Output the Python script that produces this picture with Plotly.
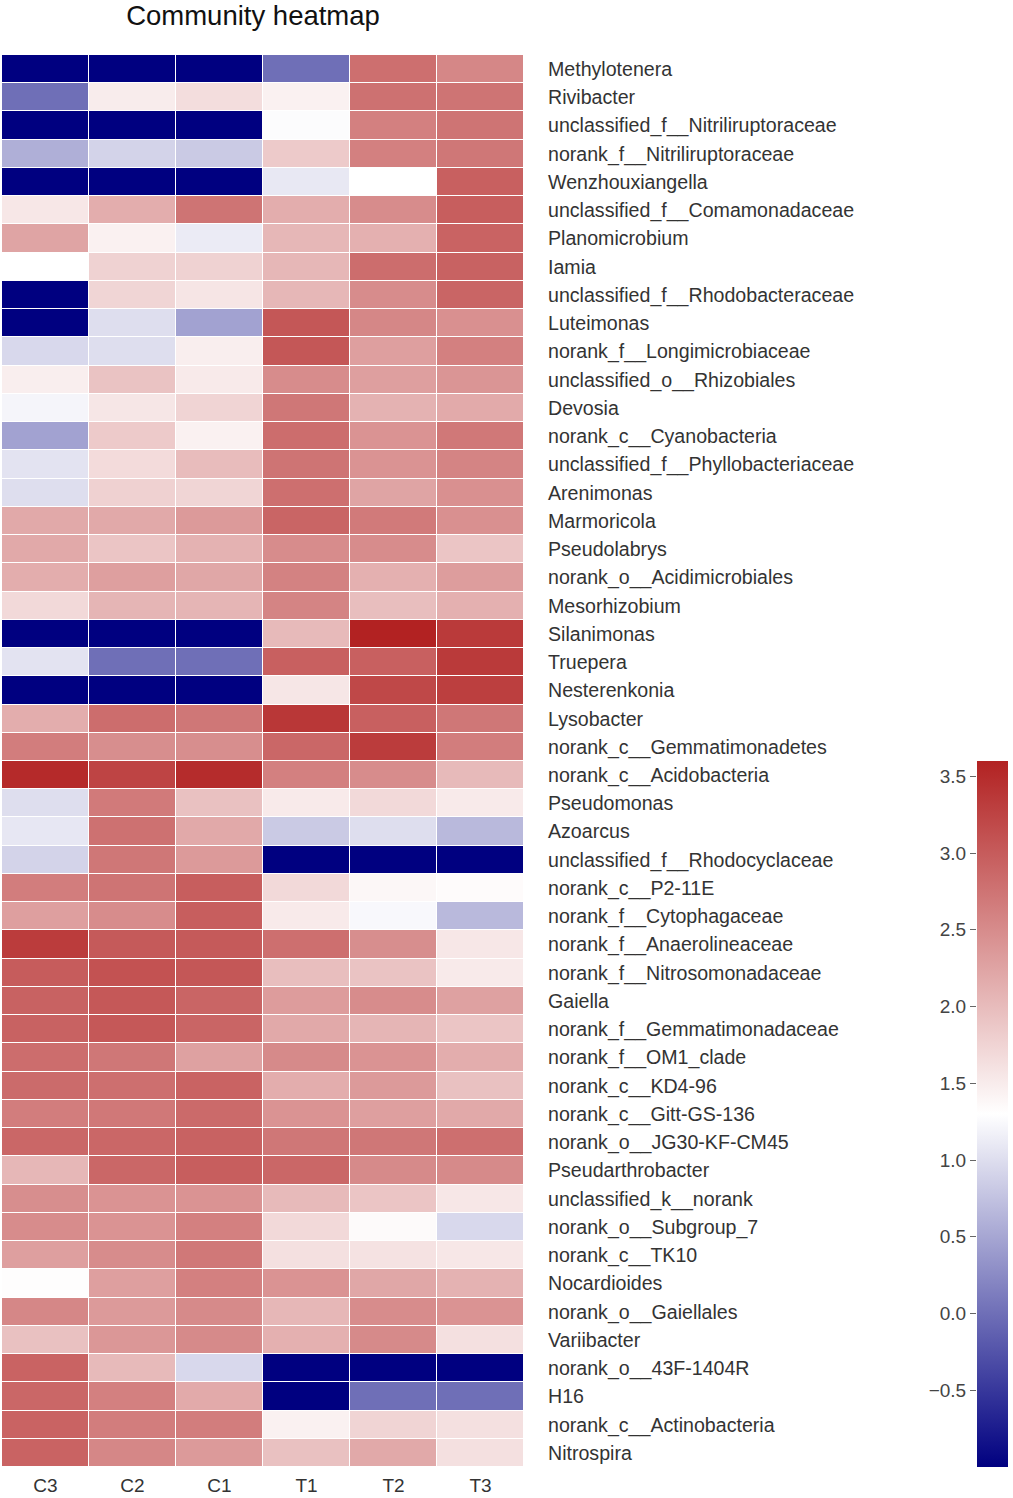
import plotly.graph_objects as go

N = -1.0  # cells at the bottom of the colour range

samples = ["C3", "C2", "C1", "T1", "T2", "T3"]

taxa = [
    "Methylotenera", "Rivibacter", "unclassified_f__Nitriliruptoraceae",
    "norank_f__Nitriliruptoraceae", "Wenzhouxiangella", "unclassified_f__Comamonadaceae",
    "Planomicrobium", "Iamia", "unclassified_f__Rhodobacteraceae", "Luteimonas",
    "norank_f__Longimicrobiaceae", "unclassified_o__Rhizobiales", "Devosia",
    "norank_c__Cyanobacteria", "unclassified_f__Phyllobacteriaceae", "Arenimonas",
    "Marmoricola", "Pseudolabrys", "norank_o__Acidimicrobiales", "Mesorhizobium",
    "Silanimonas", "Truepera", "Nesterenkonia", "Lysobacter",
    "norank_c__Gemmatimonadetes", "norank_c__Acidobacteria", "Pseudomonas", "Azoarcus",
    "unclassified_f__Rhodocyclaceae", "norank_c__P2-11E", "norank_f__Cytophagaceae",
    "norank_f__Anaerolineaceae", "norank_f__Nitrosomonadaceae", "Gaiella",
    "norank_f__Gemmatimonadaceae", "norank_f__OM1_clade", "norank_c__KD4-96",
    "norank_c__Gitt-GS-136", "norank_o__JG30-KF-CM45", "Pseudarthrobacter",
    "unclassified_k__norank", "norank_o__Subgroup_7", "norank_c__TK10", "Nocardioides",
    "norank_o__Gaiellales", "Variibacter", "norank_o__43F-1404R", "H16",
    "norank_c__Actinobacteria", "Nitrospira",
]

c3 = [N, 0.0, N, 0.58, N, 1.55, 2.25, 1.3, N, N,
      0.95, 1.48, 1.21, 0.46, 1.05, 1.0, 2.2, 2.2, 2.15, 1.7,
      N, 1.05, N, 2.15, 2.65, 3.52, 1.0, 1.08, 0.9, 2.65,
      2.3, 3.33, 3.0, 2.93, 2.93, 2.82, 2.84, 2.65, 2.88, 2.05,
      2.48, 2.5, 2.3, 1.32, 2.55, 1.95, 2.92, 2.88, 2.92, 2.92]
c2 = [N, 1.5, N, 0.9, N, 2.15, 1.45, 1.77, 1.74, 1.0,
      1.0, 1.92, 1.56, 1.85, 1.67, 1.78, 2.2, 1.9, 2.3, 2.07,
      N, 0.0, N, 2.82, 2.48, 3.25, 2.68, 2.78, 2.72, 2.75,
      2.5, 3.02, 3.1, 3.04, 3.04, 2.72, 2.8, 2.7, 2.88, 2.88,
      2.42, 2.42, 2.5, 2.3, 2.35, 2.38, 2.02, 2.62, 2.65, 2.55]
c1 = [N, 1.65, N, 0.82, N, 2.75, 1.12, 1.77, 1.57, 0.46,
      1.48, 1.52, 1.75, 1.45, 2.0, 1.74, 2.35, 2.1, 2.22, 2.07,
      N, 0.0, N, 2.72, 2.48, 3.5, 1.95, 2.2, 2.35, 2.98,
      2.98, 3.02, 3.05, 2.9, 2.9, 2.28, 2.92, 2.85, 2.93, 2.98,
      2.42, 2.62, 2.7, 2.62, 2.52, 2.52, 0.95, 2.18, 2.65, 2.35]
t1 = [0.0, 1.45, 1.27, 1.85, 1.09, 2.15, 2.05, 2.05, 2.05, 3.05,
      3.05, 2.5, 2.72, 2.82, 2.75, 2.8, 2.9, 2.5, 2.6, 2.58,
      2.02, 2.95, 1.56, 3.38, 2.88, 2.62, 1.52, 0.82, N, 1.7,
      1.52, 2.8, 1.98, 2.33, 2.2, 2.52, 2.15, 2.42, 2.72, 2.88,
      2.02, 1.7, 1.62, 2.42, 2.05, 2.12, N, N, 1.45, 1.95]
t2 = [2.8, 2.78, 2.62, 2.62, 1.3, 2.5, 2.12, 2.82, 2.5, 2.55,
      2.3, 2.3, 2.1, 2.42, 2.42, 2.25, 2.68, 2.5, 2.12, 1.98,
      3.6, 2.95, 3.2, 2.95, 3.33, 2.5, 1.7, 1.0, N, 1.38,
      1.24, 2.48, 1.92, 2.5, 2.07, 2.42, 2.35, 2.3, 2.72, 2.52,
      1.9, 1.35, 1.6, 2.22, 2.5, 2.52, N, 0.0, 1.75, 2.2]
t3 = [2.55, 2.75, 2.75, 2.72, 2.95, 2.98, 2.92, 2.93, 2.9, 2.45,
      2.62, 2.4, 2.18, 2.7, 2.58, 2.45, 2.45, 1.9, 2.32, 2.12,
      3.35, 3.35, 3.3, 2.72, 2.65, 2.02, 1.52, 0.67, N, 1.34,
      0.67, 1.55, 1.52, 2.28, 1.9, 2.15, 1.95, 2.2, 2.8, 2.52,
      1.55, 0.95, 1.55, 2.1, 2.42, 1.62, N, 0.0, 1.62, 1.62]

cbar_ticks = [-0.5, 0.0, 0.5, 1.0, 1.5, 2.0, 2.5, 3.0, 3.5]

ZMIN, ZMAX = -1.0, 3.6
FONT = "Liberation Sans, Arial, sans-serif"

columns = [c3, c2, c1, t1, t2, t3]
z = [list(row) for row in zip(*columns)]

W, H = 1013, 1498
ML, MR, MT, MB = 2, 5, 55, 28
plot_w = W - ML - MR
heat_right = 522 / plot_w
cb_left = (977 - ML) / plot_w

fig = go.Figure()

fig.add_trace(go.Heatmap(
    z=z, x=samples, y=taxa,
    zmin=ZMIN, zmax=ZMAX,
    colorscale=[[0, "#000080"], [0.5, "#ffffff"], [1, "#b22222"]],
    xgap=1, ygap=1,
    colorbar=dict(
        x=cb_left, xanchor="left", xpad=0,
        y=0, yanchor="bottom", ypad=0,
        len=0.5, lenmode="fraction", thickness=31,
        outlinewidth=0, showticklabels=False, ticks="",
    ),
))

# empty trace so the colour-bar scale axis gets drawn on the left of the bar
fig.add_trace(go.Scatter(x=[], y=[], xaxis="x2", yaxis="y2",
                         showlegend=False, hoverinfo="skip"))

fig.update_layout(
    width=W, height=H,
    margin=dict(l=ML, r=MR, t=MT, b=MB),
    paper_bgcolor="#ffffff", plot_bgcolor="#ffffff",
    font=dict(family=FONT, color="#333333"),
    title=dict(text="Community heatmap", xref="paper", x=(253 - ML) / plot_w,
               xanchor="center", y=1 - 15 / H, yanchor="middle",
               font=dict(size=27.5, color="#111111", family=FONT)),
    xaxis=dict(domain=[0, heat_right], ticks="", showgrid=False, zeroline=False,
               tickfont=dict(size=19, color="#333333"), ticklabelstandoff=5),
    yaxis=dict(side="right", autorange="reversed", ticks="", showgrid=False,
               zeroline=False, tickfont=dict(size=19.6, color="#333333"),
               ticklabelstandoff=23),
    xaxis2=dict(domain=[cb_left, min(1.0, cb_left + 0.02)], anchor="y2",
                visible=False, range=[0, 1]),
    yaxis2=dict(domain=[0, 0.5], anchor="x2", side="left", range=[ZMIN, ZMAX],
                tickvals=cbar_ticks, tickformat=".1f", ticks="outside",
                ticklen=6, tickcolor="#666666", showgrid=False, zeroline=False,
                showline=False, tickfont=dict(size=19, color="#444444")),
    showlegend=False,
)

fig.write_html("out.html", config={"displayModeBar": False},
               post_script="document.body.style.margin='0px';")
